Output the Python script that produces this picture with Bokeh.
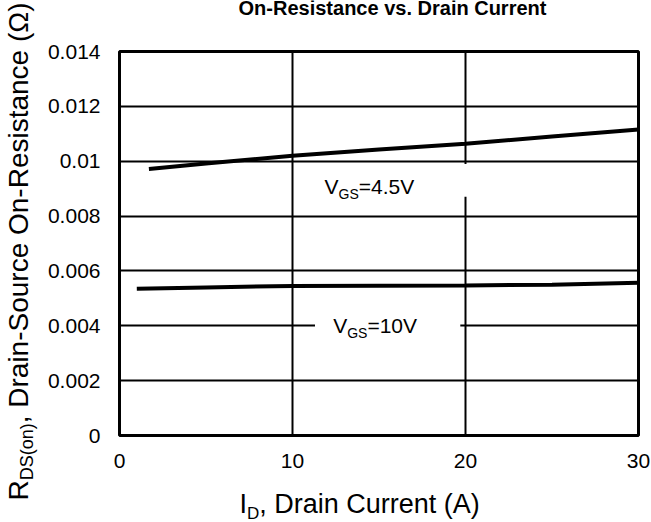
import math
from bokeh.plotting import figure
from bokeh.models import FixedTicker, Range1d
from bokeh.layouts import row, column
from bokeh.core.properties import value
from bokeh.embed import file_html
from bokeh.resources import INLINE

# ---- data ----
id_45 = [1.7, 5, 10, 15, 20, 25, 30]
r_45 = [0.00972, 0.00992, 0.01020, 0.01043, 0.01064, 0.01090, 0.01116]
id_10 = [1.0, 5, 10, 15, 20, 25, 30]
r_10 = [0.00535, 0.00540, 0.00545, 0.00546, 0.00547, 0.00550, 0.00557]

x_ticks = [0, 10, 20, 30]
x_tick_labels = ["0", "10", "20", "30"]
y_ticks = [0, 0.002, 0.004, 0.006, 0.008, 0.01, 0.012, 0.014]
y_tick_labels = ["0", "0.002", "0.004", "0.006", "0.008", "0.01", "0.012", "0.014"]

title_text = "On-Resistance vs. Drain Current"

FONT = "Liberation Sans"
MID = 0.3465  # distance from alphabetic baseline to em-box middle, in em
W = {' ': .278, ',': .278, '-': .333, '.': .278, '(': .333, ')': .333, '=': .584,
     'A': .667, 'C': .722, 'D': .722, 'G': .778, 'I': .278, 'O': .778, 'R': .722,
     'S': .667, 'V': .667, 'a': .556, 'c': .5, 'e': .556, 'i': .222, 'n': .556,
     'o': .556, 'r': .333, 's': .5, 't': .278, 'u': .556, 'Ω': .768}

# main plot frame borders (px)
BL, BR = 79, 13
FW = 611 - BL - BR


def tw(s, size):
    return sum(W.get(c, 0.556) for c in s) * size


def txt(fig, x, y, s, size, **kw):
    fig.text(x=[x], y=[y], text=[s], text_font=value(FONT), text_font_size=f"{size}px",
             text_baseline="middle", text_align=kw.pop("align", "left"),
             text_color="black", **kw)


def strip(w, h, left=0, right=0):
    f = figure(width=w, height=h, x_range=Range1d(0, w - left - right), y_range=Range1d(0, h),
               x_axis_location=None, y_axis_location=None,
               min_border_left=left, min_border_right=right, min_border_top=0, min_border_bottom=0,
               outline_line_color=None, toolbar_location=None, output_backend="svg")
    f.grid.visible = False
    f.background_fill_color = "white"
    f.border_fill_color = "white"
    return f


# ---- main chart (page x 40..651, y 40..480) ----
p = figure(width=611, height=440, x_range=Range1d(0, 30), y_range=Range1d(0, 0.014),
           output_backend="svg", toolbar_location=None,
           min_border_left=BL, min_border_right=BR, min_border_top=11, min_border_bottom=45)
p.background_fill_color = "white"
p.border_fill_color = "white"
p.outline_line_color = "black"
p.outline_line_width = 3
p.outline_line_alpha = 1

p.xaxis.ticker = FixedTicker(ticks=x_ticks)
p.xaxis.major_label_overrides = dict(zip(x_ticks, x_tick_labels))
p.yaxis.ticker = FixedTicker(ticks=y_ticks)
p.yaxis.major_label_overrides = dict(zip(y_ticks, y_tick_labels))
for ax in (p.xaxis, p.yaxis):
    ax.axis_line_color = None
    ax.major_tick_line_color = None
    ax.minor_tick_line_color = None
    ax.major_tick_out = 0
    ax.major_tick_in = 0
    ax.minor_tick_out = 0
    ax.major_label_text_font = FONT
    ax.major_label_text_font_size = "21px"
    ax.major_label_text_color = "black"
p.xaxis.major_label_standoff = 18
p.yaxis.major_label_standoff = 19

p.xgrid.ticker = FixedTicker(ticks=x_ticks[1:-1])
p.ygrid.ticker = FixedTicker(ticks=y_ticks[1:-1])
for g in (p.xgrid, p.ygrid):
    g.grid_line_color = "black"
    g.grid_line_width = 2
    g.grid_line_alpha = 1

# white boxes behind curve labels
p.quad(left=[10.5, 11.3], right=[20.4, 19.7], bottom=[0.0087, 0.0036], top=[0.0099, 0.0046],
       fill_color="white", line_color=None)

p.line(id_45, r_45, line_color="black", line_width=4)
p.line(id_10, r_10, line_color="black", line_width=4)

LF, SF = 21, 14
for (lx, ly, rest) in [(11.85, 0.00880, "=4.5V"), (12.35, 0.00376, "=10V")]:
    txt(p, lx, ly, "V", LF, y_offset=-MID * LF)
    txt(p, lx, ly, "GS", SF, x_offset=tw("V", LF), y_offset=5 - MID * SF)
    txt(p, lx, ly, rest, LF, x_offset=tw("V", LF) + tw("GS", SF), y_offset=-MID * LF)

# ---- title strip (page y 0..40, x 40..651) ----
TF = 20
t = strip(611, 40, BL, BR)
t.text(x=[392 - 119], y=[40 - 14 + MID * TF], text=[title_text], text_font=value(FONT),
       text_font_size=f"{TF}px", text_font_style="bold", text_align="center",
       text_baseline="middle", text_color="black")

# ---- x label strip (page y 480..522) ----
XF, XS = 27, 17
xl = strip(611, 42, BL, BR)
x0 = 239 - 119
yb = 522 - 513
txt(xl, x0, yb + MID * XF, "I", XF)
txt(xl, x0 + tw("I", XF), yb - 6 + MID * XS, "D", XS)
txt(xl, x0 + tw("I", XF) + tw("D", XS), yb + MID * XF, ", Drain Current (A)", XF)

# ---- y label strip (page x 0..40) ----
YF, YS = 28, 18
yl = strip(40, 522)
ang = math.pi / 2
y0 = 522 - 500
bx = 28
txt(yl, bx - MID * YF, y0, "R", YF, angle=ang)
txt(yl, bx + 5 - MID * YS, y0 + tw("R", YF), "DS(on)", YS, angle=ang)
txt(yl, bx - MID * YF, y0 + tw("R", YF) + tw("DS(on)", YS),
    ", Drain-Source On-Resistance (Ω)", YF, angle=ang)

layout = row(yl, column(t, p, xl))
open("out.html", "w").write(file_html(layout, INLINE))
